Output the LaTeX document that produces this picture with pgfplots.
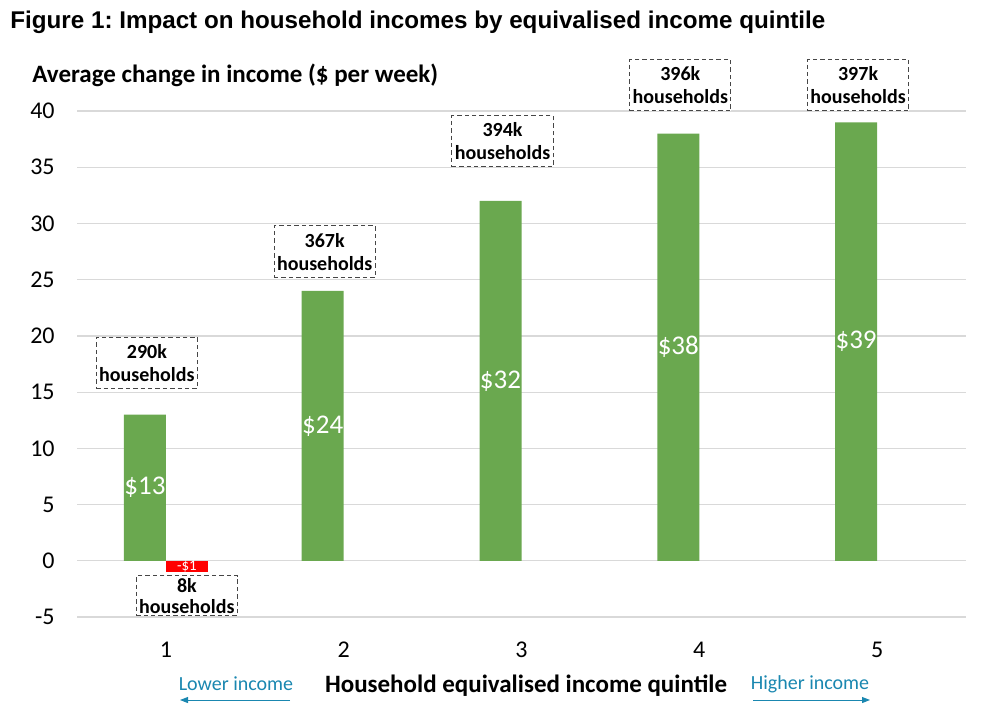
\documentclass[border=0pt]{standalone}
\usepackage{pgfplots}
\pgfplotsset{compat=1.18}
\usepackage{fontspec}
\setmainfont{Carlito}
\newfontfamily\arialfont{Liberation Sans}
\usetikzlibrary{arrows.meta}
\definecolor{bargreen}{RGB}{106,168,79}
\definecolor{barred}{RGB}{255,0,0}
\definecolor{gridgray}{RGB}{217,217,217}
\definecolor{noteblue}{RGB}{26,135,176}
\definecolor{boxgray}{RGB}{70,70,70}
\frenchspacing
\begin{document}
\begin{tikzpicture}[
    hbox/.style={draw=boxgray, dash pattern=on 2.2pt off 1.5pt, line width=0.5pt,
        fill=white, align=center, inner xsep=1.5pt, inner ysep=3.5pt, minimum width=50pt,
        font=\fontsize{10}{11.5}\selectfont\bfseries},
    vlab/.style={text=white, font=\fontsize{13.5}{14}\selectfont}
]
\path (0,0) rectangle (491.5pt,362.5pt);
\begin{axis}[
    at={(38.5pt,54pt)}, anchor=south west,
    scale only axis,
    width=444.5pt, height=253pt,
    xmin=0.5, xmax=5.5,
    ymin=-5, ymax=40,
    ytick={-5,0,...,40},
    xtick={1,2,3,4,5},
    axis line style={draw=none},
    major tick length=0pt,
    ymajorgrids,
    grid style={gridgray, line width=0.6pt},
    /pgf/number format/assume math mode=true,
    tick label style={font=\fontsize{12}{13}\selectfont},
    yticklabel style={anchor=east, inner sep=0pt, xshift=-11pt},
    xticklabel style={anchor=north, inner sep=0pt, yshift=-12.5pt},
    ybar, bar width=21pt,
    clip=false,
]
\addplot[fill=bargreen, draw=none, bar shift=-10.5pt] coordinates {
    (1,13) (2,24) (3,32) (4,38) (5,39)
};
\addplot[fill=barred, draw=none, bar shift=10.5pt] coordinates {
    (1,-1)
};
% value labels
\node[vlab, xshift=-10.5pt] at (axis cs:1,6.5) {\$13};
\node[vlab, xshift=-10.5pt] at (axis cs:2,12) {\$24};
\node[vlab, xshift=-10.5pt] at (axis cs:3,16) {\$32};
\node[vlab, xshift=-10.5pt] at (axis cs:4,19) {\$38};
\node[vlab, xshift=-10.5pt] at (axis cs:5,19.5) {\$39};
\node[text=white, xshift=10.5pt, inner sep=0pt, font=\fontsize{7.5}{8}\selectfont] at (axis cs:1,-0.5) {-\$1};
% household boxes
\node[hbox, xshift=-9.5pt] at (axis cs:1,17.6) {290k\\households};
\node[hbox, xshift=-9.5pt] at (axis cs:2,27.5) {367k\\households};
\node[hbox, xshift=-9.5pt] at (axis cs:3,37.3) {394k\\households};
\node[hbox, xshift=-9.5pt] at (axis cs:4,42.3) {396k\\households};
\node[hbox, xshift=-9.5pt] at (axis cs:5,42.3) {397k\\households};
\node[hbox, xshift=10.5pt, inner ysep=1.2pt, font=\fontsize{10}{10.5}\selectfont\bfseries] at (axis cs:1,-3.1) {8k\\households};
\end{axis}
% titles
\node[anchor=west, inner sep=0pt, font=\arialfont\fontsize{12.1}{13}\selectfont\bfseries] at (5pt,351.5pt)
    {Figure 1: Impact on household incomes by equivalised income quintile};
\node[anchor=west, inner sep=0pt, font=\fontsize{12.5}{13}\selectfont\bfseries] at (16pt,325pt)
    {Average change in income (\$ per week)};
\node[inner sep=0pt, font=\fontsize{12.5}{13}\selectfont\bfseries] at (263pt,19.5pt)
    {Household equivalised income quintile};
\node[inner sep=0pt, text=noteblue, font=\fontsize{10}{12}\selectfont] at (118pt,20.5pt) {Lower income};
\node[inner sep=0pt, text=noteblue, font=\fontsize{10}{12}\selectfont] at (405pt,20.5pt) {Higher income};
\draw[noteblue, line width=0.5pt, -{Triangle[length=4pt,width=3pt]}] (145pt,12.5pt) -- (90pt,12.5pt);
\draw[noteblue, line width=0.5pt, -{Triangle[length=4pt,width=3pt]}] (376.5pt,12.5pt) -- (435pt,12.5pt);
\end{tikzpicture}
\end{document}
